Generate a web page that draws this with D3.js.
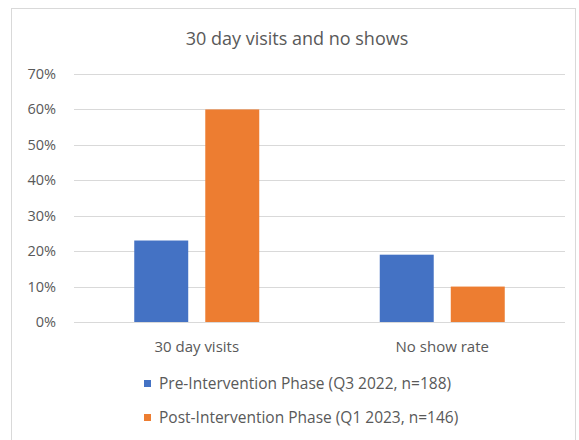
<!DOCTYPE html>
<html>
<head>
<meta charset="utf-8">
<script src="https://cdn.jsdelivr.net/npm/d3@7"></script>
<style>
  body { margin: 0; background: #fff; }
  text { font-family: "Open Sans", "Noto Sans", sans-serif; fill: #595959; }
</style>
</head>
<body>
<div id="chart"></div>
<script>
const categories = ["30 day visits", "No show rate"];
const seriesNames = [
  "Pre-Intervention Phase (Q3 2022, n=188)",
  "Post-Intervention Phase (Q1 2023, n=146)"
];
const preValues = [0.23, 0.19];
const postValues = [0.60, 0.10];
const yTicks = [0, 0.1, 0.2, 0.3, 0.4, 0.5, 0.6, 0.7];
const colors = ["#4472C4", "#ED7D31"];

const width = 579, height = 440;
const plot = { left: 74, right: 565, top: 74, bottom: 322 };

const svg = d3.select("#chart").append("svg")
  .attr("width", width)
  .attr("height", height);

// chart frame
svg.append("rect")
  .attr("x", 11.5).attr("y", 8.5)
  .attr("width", 564).attr("height", 440)
  .attr("fill", "#fff")
  .attr("stroke", "#d9d9d9");

svg.append("text")
  .attr("x", 297).attr("y", 45)
  .attr("text-anchor", "middle")
  .attr("font-size", "18px")
  .text("30 day visits and no shows");

const y = d3.scaleLinear().domain([0, 0.7]).range([plot.bottom, plot.top]);
const x0 = d3.scaleBand().domain(categories).range([plot.left, plot.right]);
const x1 = d3.scaleBand().domain([0, 1]).range([-62.5, 62.5]).paddingInner(0.24);

// gridlines
svg.append("g").selectAll("line")
  .data(yTicks)
  .join("line")
  .attr("x1", plot.left).attr("x2", plot.right)
  .attr("y1", d => Math.round(y(d)) + 0.5)
  .attr("y2", d => Math.round(y(d)) + 0.5)
  .attr("stroke", "#d9d9d9");

// y axis labels
svg.append("g").selectAll("text")
  .data(yTicks)
  .join("text")
  .attr("x", 56).attr("y", d => y(d) + 5)
  .attr("text-anchor", "end")
  .attr("font-size", "14.5px")
  .text(d => d3.format(".0%")(d));

const rows = categories.map((c, i) => ({ cat: c, vals: [preValues[i], postValues[i]] }));

const groups = svg.append("g").selectAll("g")
  .data(rows)
  .join("g")
  .attr("transform", d => `translate(${x0(d.cat) + x0.bandwidth() / 2},0)`);

groups.selectAll("rect")
  .data(d => d.vals.map((v, s) => ({ v, s })))
  .join("rect")
  .attr("x", d => x1(d.s))
  .attr("width", x1.bandwidth())
  .attr("y", d => y(d.v))
  .attr("height", d => y(0) - y(d.v))
  .attr("fill", d => colors[d.s]);

groups.append("text")
  .attr("y", 352)
  .attr("text-anchor", "middle")
  .attr("font-size", "15px")
  .text(d => d.cat);

// legend
const legend = svg.append("g").selectAll("g")
  .data(seriesNames)
  .join("g")
  .attr("transform", (d, i) => `translate(144,${384 + i * 34})`);

legend.append("rect")
  .attr("x", 0).attr("y", -4)
  .attr("width", 7).attr("height", 7)
  .attr("fill", (d, i) => colors[i]);

legend.append("text")
  .attr("x", 15).attr("y", 5)
  .attr("font-size", "15.5px")
  .text(d => d);
</script>
</body>
</html>
